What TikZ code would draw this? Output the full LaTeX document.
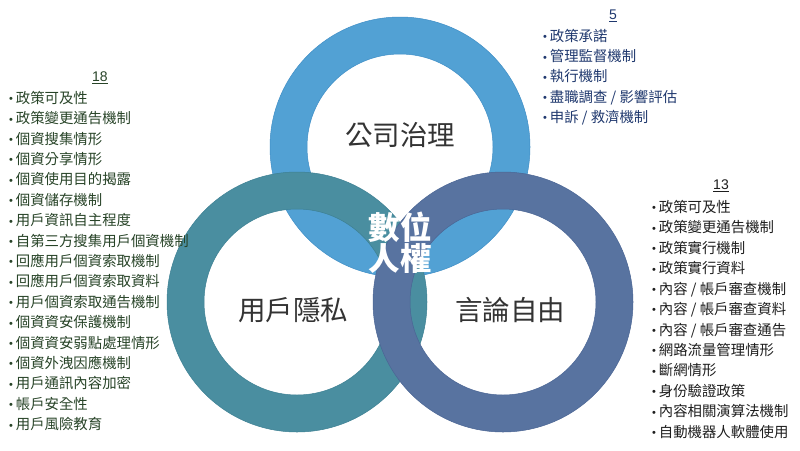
\documentclass[tikz,border=0pt]{standalone}
\usepackage{fontspec}
\setmainfont{Noto Sans CJK TC}
\newfontfamily\latinf{Liberation Sans}
\definecolor{ringA}{HTML}{52A1D4}
\definecolor{ringAd}{HTML}{3F8EC6}
\definecolor{ringB}{HTML}{4A8EA0}
\definecolor{ringBd}{HTML}{3D8093}
\definecolor{ringC}{HTML}{5873A0}
\definecolor{ringCd}{HTML}{4A6594}
\definecolor{txtL}{HTML}{284428}
\definecolor{txtT}{HTML}{1F386E}
\definecolor{txtR}{HTML}{1E1E1E}
\definecolor{lab}{HTML}{333333}
\newcommand{\bul}{\raisebox{0.6pt}{\latinf\fontsize{11}{11}\selectfont •}\hspace{2.8pt}}
\tikzset{
  ring/.style={even odd rule, line width=0.5pt},
  item/.style={inner sep=0pt, anchor=base west, font=\fontsize{14.4}{17}\selectfont},
  numlab/.style={inner sep=0pt, anchor=base, font=\latinf\fontsize{14}{17}\selectfont},
  circlab/.style={inner sep=0pt, text=lab, font=\fontsize{27.5}{30}\selectfont},
}
\begin{document}
\begin{tikzpicture}[x=1pt,y=-1pt]
\useasboundingbox (0,0) rectangle (800,450);
\fill[white] (0,0) rectangle (800,450);
\coordinate (cT) at (400,147);
\coordinate (cL) at (297,302);
\coordinate (cR) at (503,302);
\path[ring, fill=ringA, draw=ringAd] (cT) circle[radius=130pt] (cT) circle[radius=93pt];
\path[ring, fill=ringB, draw=ringBd] (cL) circle[radius=130pt] (cL) circle[radius=93pt];
\path[ring, fill=ringC, draw=ringCd] (cR) circle[radius=130pt] (cR) circle[radius=93pt];
\node[circlab] (tT) at (400,135) {公司治理};
\node[circlab] (tL) at (293,310) {用戶隱私};
\node[circlab] (tR) at (510,310) {言論自由};
\node[inner sep=0pt, text=white, align=center, font=\fontsize{31.5}{29.5}\selectfont\bfseries] (tC) at (400,243) {數位\\人權};
% left list
\node[numlab, text=txtL] (nL) at (100,81.5) {\underline{18}};
\foreach \t [count=\i] in {政策可及性,政策變更通告機制,個資搜集情形,個資分享情形,個資使用目的揭露,個資儲存機制,用戶資訊自主程度,自第三方搜集用戶個資機制,回應用戶個資索取機制,回應用戶個資索取資料,用戶個資索取通告機制,個資資安保護機制,個資資安弱點處理情形,個資外洩因應機制,用戶通訊內容加密,帳戶安全性,用戶風險教育}
  \node[item, text=txtL] (L\i) at (9,{103.3+20.4*(\i-1)}) {\bul\t};
% top list
\node[numlab, text=txtT] (nT) at (613,19.5) {\underline{5}};
\foreach \t [count=\i] in {政策承諾,管理監督機制,執行機制,盡職調查 / 影響評估,申訴 / 救濟機制}
  \node[item, text=txtT] (T\i) at (543,{41.3+20.3*(\i-1)}) {\bul\t};
% right list
\node[numlab, text=txtR] (nR) at (721,189.5) {\underline{13}};
\foreach \t [count=\i] in {政策可及性,政策變更通告機制,政策實行機制,政策實行資料,內容 / 帳戶審查機制,內容 / 帳戶審查資料,內容 / 帳戶審查通告,網路流量管理情形,斷網情形,身份驗證政策,內容相關演算法機制,自動機器人軟體使用}
  \node[item, text=txtR] (R\i) at (652,{212.3+20.45*(\i-1)}) {\bul\t};
\end{tikzpicture}
\end{document}
